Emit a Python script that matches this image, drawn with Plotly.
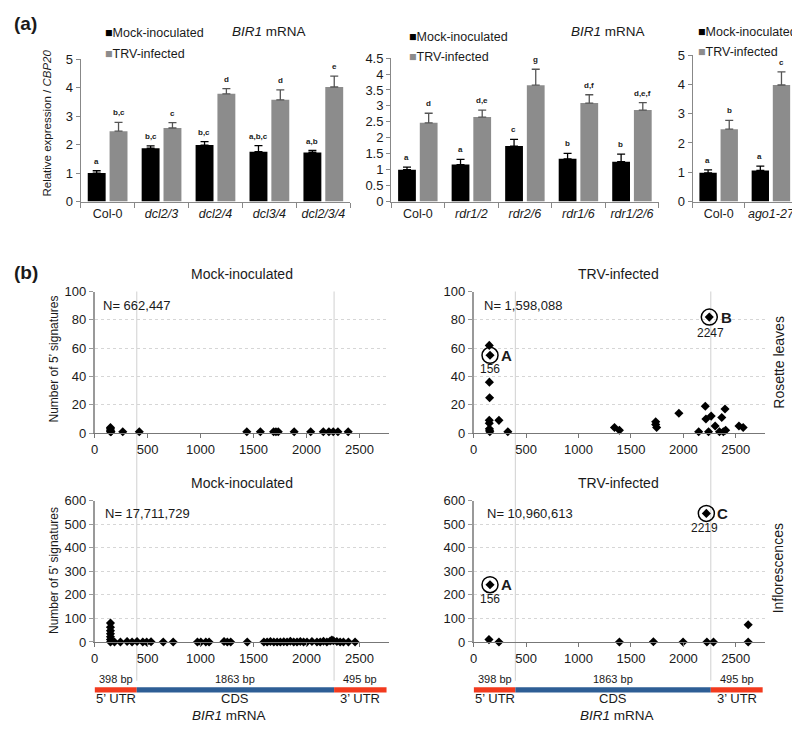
import plotly.graph_objects as go

# The page keeps its default 8px body margin; the figure is sized so that the
# page is exactly 800x736 and every reference pixel maps 1:1.
OFF = 8
W, H = 800 - OFF, 736 - 2 * OFF
def px(x): return (x - OFF) / W
def py(y): return 1 - (y - OFF) / H

FONT = "Arial, Liberation Sans, sans-serif"
TXT = "#1a1a1a"

# ---------------- (a) qRT-PCR data ----------------
dcl_genotypes = ["Col-0", "<i>dcl2/3</i>", "<i>dcl2/4</i>", "<i>dcl3/4</i>", "<i>dcl2/3/4</i>"]
dcl_mock = [1.0, 1.87, 1.98, 1.75, 1.72]
dcl_mock_err = [0.08, 0.08, 0.12, 0.21, 0.07]
dcl_trv = [2.47, 2.58, 3.78, 3.57, 4.02]
dcl_trv_err = [0.31, 0.19, 0.18, 0.35, 0.38]
dcl_mock_letters = ["a", "b,c", "b,c", "a,b,c", "a,b"]
dcl_trv_letters = ["b,c", "c", "d", "d", "e"]

rdr_genotypes = ["Col-0", "<i>rdr1/2</i>", "<i>rdr2/6</i>", "<i>rdr1/6</i>", "<i>rdr1/2/6</i>"]
rdr_mock = [1.0, 1.16, 1.74, 1.34, 1.25]
rdr_mock_err = [0.08, 0.16, 0.21, 0.17, 0.24]
rdr_trv = [2.47, 2.65, 3.65, 3.09, 2.87]
rdr_trv_err = [0.30, 0.22, 0.50, 0.26, 0.23]
rdr_mock_letters = ["a", "a", "c", "b", "b"]
rdr_trv_letters = ["d", "d,e", "g", "d,f", "d,e,f"]

ago_genotypes = ["Col-0", "<i>ago1-27</i>"]
ago_mock = [0.98, 1.06]
ago_mock_err = [0.10, 0.15]
ago_trv = [2.47, 3.98]
ago_trv_err = [0.30, 0.45]
ago_mock_letters = ["a", "a"]
ago_trv_letters = ["b", "c"]

# ---------------- (b) 5' signature data ----------------
rl_mock_pos = [150, 150, 150, 150, 155, 266, 422, 1437, 1565, 1690, 1712, 1734, 1884, 2040, 2159, 2212, 2253, 2297, 2394]
rl_mock_cnt = [4, 3, 2, 1, 1, 1, 1, 1, 1, 1, 1, 1, 1, 1, 1, 1, 1, 1, 1]

rl_trv_pos = [149, 156, 150, 152, 149, 149, 150, 152, 154, 241, 326, 1343, 1390, 1736, 1736, 1745,
              1957, 2146, 2209, 2215, 2240, 2247, 2265, 2303, 2344, 2366, 2381, 2397, 2403, 2530, 2570]
rl_trv_cnt = [62, 55, 36, 25, 9, 7, 3, 2, 1, 9, 1, 4, 2, 8, 6, 4,
              14, 1, 19, 10, 1, 82, 12, 5, 1, 11, 1, 17, 2, 5, 4]
rl_trv_mark_pos = [156, 2247]
rl_trv_mark_cnt = [55, 82]
rl_trv_mark_lbl = ["A", "B"]

inf_mock_pos = [150, 150, 150, 150, 150, 150, 150, 188, 244, 307, 354, 401, 455, 492, 533, 648, 742,
                971, 1003, 1050, 1081, 1222, 1253, 1285, 1441, 1598, 1629, 1660, 1692, 1723, 1754,
                1786, 1817, 1848, 1880, 1911, 1942, 1973, 2005, 2052, 2099, 2130, 2161, 2193, 2224,
                2240, 2255, 2287, 2318, 2349, 2396, 2459]
inf_mock_cnt = [80, 63, 48, 35, 22, 10, 0, 0, 0, 2, 0, 2, 0, 0, 1, 0, 0,
                0, 0, 0, 0, 2, 0, 0, 0, 0, 0, 2, 0, 0, 0,
                1, 0, 3, 0, 0, 2, 0, 0, 2, 0, 0, 3, 0, 4,
                8, 5, 2, 0, 0, 0, 0]

inf_trv_pos = [156, 146, 241, 1390, 1714, 1997, 2219, 2224, 2287, 2618, 2618]
inf_trv_cnt = [243, 10, 0, 0, 1, 0, 546, 0, 0, 73, 0]
inf_trv_mark_pos = [156, 2219]
inf_trv_mark_cnt = [243, 546]
inf_trv_mark_lbl = ["A", "C"]

# BIR1 mRNA structure
mrna_seg_len = [398, 1863, 495]
mrna_seg_name = ["5\u2019 UTR", "CDS", "3\u2019 UTR"]
mrna_seg_color = ["#f23a1e", "#2e5e95", "#f23a1e"]

fig = go.Figure()
annotations = []
shapes = []

def axn(i, kind):
    return kind if i == 1 else f"{kind}{i}"

def add_bar_panel(ax, genos, mock, mock_err, trv, trv_err, ml, tl):
    xa, ya = axn(ax, "x"), axn(ax, "y")
    fig.add_trace(go.Bar(x=genos, y=mock, marker_color="black", marker_line_width=0,
                         name="Mock-inoculated", offsetgroup="mock",
                         error_y=dict(type="data", array=mock_err, arrayminus=[0] * len(mock),
                                      symmetric=False, color="black", thickness=1.3, width=4),
                         xaxis=xa, yaxis=ya))
    fig.add_trace(go.Bar(x=genos, y=trv, marker_color="#8c8c8c", marker_line_width=0,
                         name="TRV-infected", offsetgroup="trv",
                         error_y=dict(type="data", array=trv_err, arrayminus=[0] * len(trv),
                                      symmetric=False, color="#555555", thickness=1.3, width=4),
                         xaxis=xa, yaxis=ya))
    for g, v, e, l in zip(genos, mock, mock_err, ml):
        annotations.append(dict(x=g, y=v + e, xref=xa, yref=ya, text=f"<b>{l}</b>", showarrow=False,
                                xshift=-11, yshift=3, yanchor="bottom",
                                font=dict(size=8, family=FONT, color=TXT)))
    for g, v, e, l in zip(genos, trv, trv_err, tl):
        annotations.append(dict(x=g, y=v + e, xref=xa, yref=ya, text=f"<b>{l}</b>", showarrow=False,
                                xshift=11, yshift=3, yanchor="bottom",
                                font=dict(size=8, family=FONT, color=TXT)))

add_bar_panel(1, dcl_genotypes, dcl_mock, dcl_mock_err, dcl_trv, dcl_trv_err, dcl_mock_letters, dcl_trv_letters)
add_bar_panel(2, rdr_genotypes, rdr_mock, rdr_mock_err, rdr_trv, rdr_trv_err, rdr_mock_letters, rdr_trv_letters)
add_bar_panel(3, ago_genotypes, ago_mock, ago_mock_err, ago_trv, ago_trv_err, ago_mock_letters, ago_trv_letters)

def add_scatter(ax, pos, cnt, mpos=None, mcnt=None, mlbl=None, shifts=None):
    xa, ya = axn(ax, "x"), axn(ax, "y")
    fig.add_trace(go.Scatter(x=pos, y=cnt, mode="markers", cliponaxis=False,
                             marker=dict(symbol="diamond", size=7, color="black"),
                             xaxis=xa, yaxis=ya, showlegend=False))
    if mpos:
        fig.add_trace(go.Scatter(x=mpos, y=mcnt, mode="markers", cliponaxis=False,
                                 marker=dict(symbol="circle-open", size=16, color="black",
                                             line=dict(color="black", width=1.5)),
                                 xaxis=xa, yaxis=ya, showlegend=False))
        for p, c, l, (lx, nx, ny) in zip(mpos, mcnt, mlbl, shifts):
            annotations.append(dict(x=p, y=c, xref=xa, yref=ya, text=f"<b>{l}</b>", showarrow=False,
                                    xshift=lx, xanchor="left", yanchor="middle",
                                    font=dict(size=15, family=FONT, color=TXT)))
            annotations.append(dict(x=p, y=c, xref=xa, yref=ya, text=str(p), showarrow=False,
                                    xshift=nx, yshift=ny, yanchor="middle",
                                    font=dict(size=12, family=FONT, color=TXT)))

add_scatter(4, rl_mock_pos, rl_mock_cnt)
add_scatter(5, rl_trv_pos, rl_trv_cnt, rl_trv_mark_pos, rl_trv_mark_cnt, rl_trv_mark_lbl,
            [(9, 0, -14), (10, 1, -16)])
add_scatter(6, inf_mock_pos, inf_mock_cnt)
add_scatter(7, inf_trv_pos, inf_trv_cnt, inf_trv_mark_pos, inf_trv_mark_cnt, inf_trv_mark_lbl,
            [(9, 0, -14), (9, -2, -15)])

# ---------------- axes ----------------
tickfont = dict(size=13, family=FONT, color=TXT)
bar_x = dict(type="category", tickson="boundaries", ticks="outside", ticklen=5, tickcolor="#888",
             showline=True, linecolor="#888", linewidth=1, tickfont=dict(size=12.5, family=FONT, color=TXT),
             tickangle=0, showgrid=False)
bar_y = dict(ticks="outside", ticklen=4, tickcolor="#888", showline=True, linecolor="#888",
             linewidth=1, tickfont=tickfont, showgrid=False, zeroline=False)

layout_axes = dict(
    xaxis=dict(bar_x, domain=[px(77), px(348)], anchor="y"),
    yaxis=dict(bar_y, domain=[py(198.5), py(53)], range=[0, 5], dtick=1, anchor="x"),
    xaxis2=dict(bar_x, domain=[px(389), px(658)], anchor="y2"),
    yaxis2=dict(bar_y, domain=[py(198.5), py(52)], range=[0, 4.5], dtick=0.5, anchor="x2"),
    xaxis3=dict(bar_x, domain=[px(692), px(797)], anchor="y3"),
    yaxis3=dict(bar_y, domain=[py(198.5), py(49)], range=[0, 5], dtick=1, anchor="x3"),
)

sc_x = dict(range=[0, 2780], dtick=500, tick0=0, ticks="outside", ticklen=4, tickcolor="#777",
            showline=True, linecolor="#777", linewidth=1, tickfont=tickfont, showgrid=False,
            zeroline=False)
sc_y = dict(ticks="outside", ticklen=4, tickcolor="#999", showline=True, linecolor="#999",
            linewidth=1.5, tickfont=tickfont, showgrid=True, gridcolor="#d6d6d6", griddash="dot",
            gridwidth=1, zeroline=False)
left_dom = [px(91), px(387)]
right_dom = [px(472), px(765)]
top_dom = [py(435), py(290.5)]
bot_dom = [py(648.3), py(504)]
layout_axes.update(
    xaxis4=dict(sc_x, domain=left_dom, anchor="y4"),
    yaxis4=dict(sc_y, domain=top_dom, range=[0, 100], dtick=20, anchor="x4"),
    xaxis5=dict(sc_x, domain=right_dom, anchor="y5"),
    yaxis5=dict(sc_y, domain=top_dom, range=[0, 100], dtick=20, anchor="x5"),
    xaxis6=dict(sc_x, domain=left_dom, anchor="y6"),
    yaxis6=dict(sc_y, domain=bot_dom, range=[0, 600], dtick=100, anchor="x6"),
    xaxis7=dict(sc_x, domain=right_dom, anchor="y7"),
    yaxis7=dict(sc_y, domain=bot_dom, range=[0, 600], dtick=100, anchor="x7"),
)

# ---------------- mRNA diagram + boundary lines ----------------
starts = [sum(mrna_seg_len[:i]) for i in range(len(mrna_seg_len))]
for xa in ("x6", "x7"):
    for i in (1, 2):
        shapes.append(dict(type="line", xref=xa, yref="paper", x0=starts[i], x1=starts[i],
                           y0=py(290.5), y1=py(688), line=dict(color="#d8d8d8", width=1.2), layer="below"))
    for s, L, name, col in zip(starts, mrna_seg_len, mrna_seg_name, mrna_seg_color):
        shapes.append(dict(type="rect", xref=xa, yref="paper", x0=s, x1=s + L,
                           y0=py(700), y1=py(694.5), fillcolor=col, line=dict(width=0)))
        annotations.append(dict(x=s + L / 2, y=py(686), xref=xa, yref="paper", text=f"{L} bp",
                                showarrow=False, yanchor="middle",
                                font=dict(size=11, family=FONT, color=TXT)))
        annotations.append(dict(x=s + L / 2, y=py(706.5), xref=xa, yref="paper", text=name,
                                showarrow=False, yanchor="middle",
                                font=dict(size=13, family=FONT, color=TXT)))

def txt(x, y, t, size=13, angle=0, xanchor="center", bold=False):
    annotations.append(dict(x=px(x), y=py(y), xref="paper", yref="paper",
                            text=f"<b>{t}</b>" if bold else t, showarrow=False, textangle=angle,
                            xanchor=xanchor, yanchor="middle",
                            font=dict(size=size, family=FONT, color=TXT)))

# labels (a)
txt(8, 17, "(a)", 19, xanchor="left", bold=True)
txt(8, 271, "(b)", 19, xanchor="left", bold=True)
txt(266, 25, "<i>BIR1</i> mRNA", 13.5)
txt(607, 25, "<i>BIR1</i> mRNA", 13.5)
sq_m = "<span style='color:black'>\u25A0</span>"
sq_t = "<span style='color:#8c8c8c'>\u25A0</span>"
for (lx, my, ty) in ((99, 26, 48), (405, 30, 51), (695, 25, 46)):
    txt(lx, my, sq_m + "Mock-inoculated", 12.5, xanchor="left")
    txt(lx, ty, sq_t + "TRV-infected", 12.5, xanchor="left")
txt(43, 118, "Relative expression / <i>CBP20</i>", 11.5, angle=-90)

# labels (b)
txt(239, 273, "Mock-inoculated", 14)
txt(618, 273, "TRV-infected", 14)
txt(239, 486, "Mock-inoculated", 14)
txt(618, 486, "TRV-infected", 14)
txt(97, 305, "N= 662,447", 13, xanchor="left")
txt(480, 305, "N= 1,598,088", 13, xanchor="left")
txt(99, 517, "N= 17,711,729", 13, xanchor="left")
txt(483, 517, "N= 10,960,613", 13, xanchor="left")
txt(50, 359, "Number of 5\u2019 signatures", 12, angle=-90)
txt(50, 575, "Number of 5\u2019 signatures", 12, angle=-90)
txt(778, 363, "Rosette leaves", 14, angle=-90)
txt(778, 573, "Inflorescences", 14, angle=-90)
txt(226, 723.5, "<i>BIR1</i> mRNA", 13.5)
txt(616, 723.5, "<i>BIR1</i> mRNA", 13.5)

fig.update_layout(
    width=W, height=H, margin=dict(l=0, r=0, t=0, b=0),
    plot_bgcolor="white", paper_bgcolor="white", showlegend=False,
    barmode="group", bargap=0.19, bargroupgap=0.18,
    font=dict(family=FONT, color=TXT),
    annotations=annotations, shapes=shapes, **layout_axes,
)

fig.write_html("out.html", config={"displayModeBar": False})
